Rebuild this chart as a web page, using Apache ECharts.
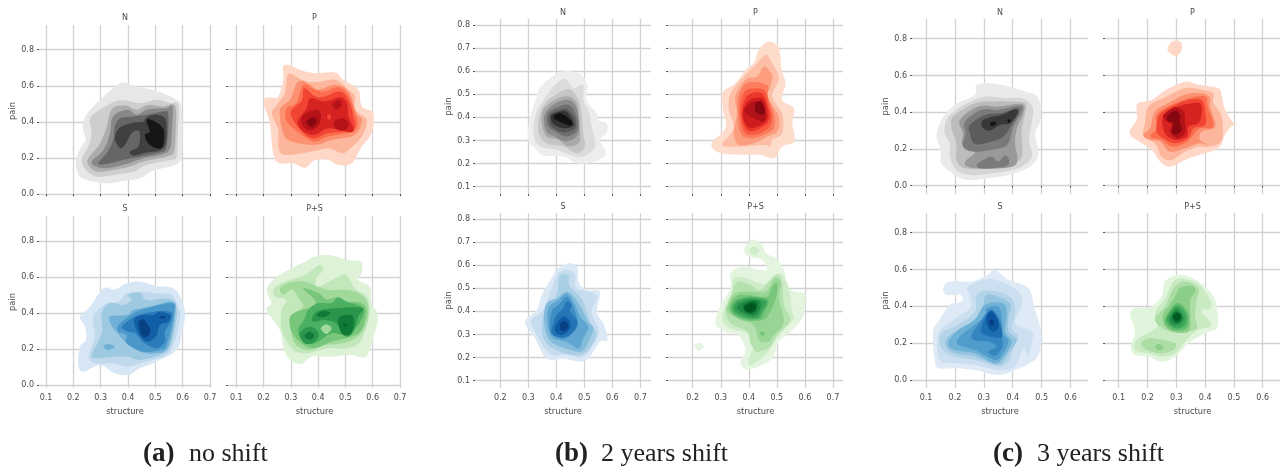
<!DOCTYPE html>
<html><head><meta charset="utf-8">
<style>html,body{margin:0;padding:0;background:#fff}#c{width:1287px;height:472px}</style>
<script src="https://cdn.jsdelivr.net/npm/echarts@6/dist/echarts.min.js"></script>
</head><body><div id="c"></div>
<script>
// Contours: [level, structure, pain, structure, pain, ...]
const aN=[
[0,.383,.619,.42,.60,.48,.581,.529,.559,.578,.522,.596,.485,.60,.337,.596,.207,.572,.161,.493,.13,.444,.087,.383,.072,.322,.059,.249,.078,.218,.111,.209,.189,.23,.263,.246,.30,.234,.374,.251,.448,.298,.522,.346,.587],
[1,.352,.513,.395,.519,.444,.504,.505,.522,.554,.504,.584,.494,.582,.337,.578,.207,.554,.189,.468,.161,.42,.124,.346,.106,.285,.096,.246,.133,.23,.189,.255,.263,.267,.337,.261,.42,.298,.467],
[2,.352,.485,.395,.489,.432,.467,.474,.494,.529,.485,.572,.489,.574,.337,.568,.235,.541,.207,.456,.18,.407,.152,.346,.133,.285,.124,.255,.161,.255,.198,.298,.281,.322,.374,.334,.448],
[3,.359,.448,.401,.467,.432,.439,.474,.47,.541,.476,.563,.485,.56,.337,.554,.254,.529,.222,.456,.198,.395,.167,.322,.143,.285,.152,.267,.18,.31,.244,.334,.337,.34,.411],
[4,.371,.42,.42,.43,.468,.439,.529,.457,.548,.439,.541,.263,.517,.23,.444,.207,.383,.189,.322,.167,.291,.17,.322,.226,.346,.30,.352,.374],
[5,.377,.374,.42,.396,.456,.402,.468,.426,.505,.439,.538,.411,.538,.281,.515,.241,.468,.23,.42,.213,.407,.235,.438,.263,.444,.337,.432,.352,.413,.337,.389,.272,.371,.254,.352,.30,.359,.346],
[6,.468,.402,.48,.415,.517,.383,.532,.346,.527,.263,.505,.254,.474,.281,.462,.328,.48,.346]];
const aP=[
[0,.272,.707,.297,.713,.34,.685,.389,.67,.462,.674,.492,.633,.547,.578,.56,.485,.602,.448,.596,.337,.56,.263,.523,.17,.474,.161,.437,.189,.389,.189,.352,.146,.309,.17,.26,.17,.236,.217,.223,.393,.203,.485,.205,.531,.23,.535,.254,.541,.272,.633],
[1,.291,.667,.34,.633,.389,.619,.462,.633,.511,.578,.535,.541,.535,.467,.578,.411,.56,.319,.511,.244,.486,.226,.437,.254,.376,.235,.278,.217,.254,.263,.254,.356,.23,.448,.254,.504,.278,.559],
[2,.327,.624,.37,.606,.401,.578,.462,.606,.511,.569,.541,.448,.56,.411,.535,.328,.45,.30,.389,.272,.303,.291,.272,.337,.26,.467,.297,.522],
[3,.346,.606,.389,.578,.425,.569,.474,.593,.511,.55,.535,.448,.545,.402,.529,.346,.437,.319,.389,.291,.34,.328,.285,.402,.285,.476,.321,.504],
[4,.349,.587,.389,.541,.425,.541,.48,.569,.511,.522,.529,.43,.529,.356,.437,.337,.382,.309,.34,.346,.30,.439,.315,.485,.342,.522],
[5,.37,.531,.425,.513,.48,.537,.505,.504,.511,.43,.529,.365,.517,.343,.437,.365,.389,.328,.346,.346,.325,.402,.358,.476],
[6,.346,.439,.395,.467,.41,.439,.403,.383,.37,.352,.342,.383],
[6,.452,.494,.474,.522,.486,.494,.468,.467],
[6,.459,.402,.492,.42,.513,.383,.492,.352,.463,.365],
[4,.432,.43,.442,.443,.448,.426,.44,.411],
[7,.358,.402,.382,.426,.395,.402,.376,.37]];
const aS=[
[0,.395,.565,.444,.574,.505,.55,.566,.537,.596,.472,.609,.389,.596,.287,.578,.194,.505,.13,.444,.093,.401,.056,.352,.065,.298,.111,.237,.074,.218,.111,.224,.213,.246,.25,.243,.324,.224,.38,.261,.435,.31,.537,.352,.531],
[1,.395,.509,.444,.519,.505,.509,.56,.50,.584,.435,.59,.38,.572,.25,.541,.167,.468,.13,.395,.102,.346,.12,.285,.12,.255,.157,.279,.269,.273,.38,.322,.454,.365,.463],
[2,.401,.50,.444,.513,.468,.472,.541,.481,.572,.454,.578,.38,.554,.213,.517,.167,.444,.139,.401,.157,.346,.157,.285,.148,.267,.167,.304,.287,.304,.398,.334,.454,.383,.444,.413,.472],
[3,.31,.213,.326,.228,.352,.213,.326,.194],
[3,.334,.38,.395,.389,.42,.417,.48,.435,.565,.463,.572,.389,.548,.213,.505,.176,.444,.185,.39,.24,.362,.287,.34,.33],
[4,.365,.333,.42,.398,.468,.426,.56,.454,.568,.389,.541,.222,.517,.194,.456,.185,.395,.231,.395,.278,.365,.296],
[5,.377,.324,.426,.38,.492,.407,.554,.407,.559,.361,.535,.296,.535,.241,.505,.204,.462,.231,.426,.287,.401,.296],
[6,.422,.361,.45,.389,.492,.389,.517,.407,.554,.389,.548,.352,.517,.333,.502,.269,.468,.241,.438,.287],
[7,.438,.346,.456,.365,.48,.315,.477,.278,.456,.265,.444,.296],
[7,.517,.38,.53,.383,.537,.372,.522,.369]];
const aPS=[
[0,.388,.713,.443,.722,.51,.694,.559,.685,.559,.62,.546,.583,.589,.546,.595,.454,.62,.389,.607,.287,.576,.157,.522,.167,.437,.157,.376,.157,.339,.117,.296,.139,.272,.213,.26,.306,.211,.417,.229,.454,.211,.528,.241,.593,.302,.648,.351,.685],
[1,.239,.537,.278,.574,.351,.611,.406,.667,.418,.639,.394,.594,.40,.546,.485,.611,.504,.611,.534,.537,.577,.491,.589,.398,.559,.25,.51,.204,.437,.204,.351,.176,.302,.204,.266,.306,.266,.417,.284,.472,.241,.491],
[2,.26,.537,.296,.569,.351,.574,.40,.546,.443,.528,.51,.528,.559,.50,.583,.444,.577,.343,.546,.269,.485,.231,.424,.222,.363,.194,.315,.231,.296,.333,.30,.389,.345,.435,.321,.50,.302,.531,.272,.50],
[3,.345,.537,.40,.513,.43,.476,.467,.487,.504,.465,.559,.454,.577,.407,.559,.306,.522,.269,.449,.241,.388,.204,.339,.231,.302,.30,.302,.389,.376,.435,.388,.472],
[4,.363,.417,.40,.454,.449,.454,.473,.487,.504,.463,.559,.435,.567,.398,.546,.333,.504,.278,.449,.287,.388,.231,.345,.241,.327,.306,.351,.37],
[5,.377,.37,.412,.417,.559,.43,.546,.38,.532,.306,.51,.269,.485,.287,.467,.343,.424,.361,.388,.352],
[5,.333,.287,.37,.324,.402,.287,.388,.241,.351,.231],
[2,.41,.315,.43,.337,.449,.315,.43,.283],
[6,.394,.389,.418,.413,.445,.40,.418,.376],
[6,.476,.376,.528,.383,.524,.296,.504,.278,.483,.296],
[7,.495,.333,.50,.342,.506,.333,.50,.324],
[6,.351,.278,.37,.296,.385,.278,.376,.254,.357,.259]];
const bN=[
[0,.395,.585,.437,.60,.49,.585,.511,.534,.508,.476,.544,.418,.55,.387,.58,.375,.58,.332,.556,.303,.576,.238,.526,.205,.473,.202,.425,.231,.354,.234,.33,.26,.30,.303,.304,.39,.33,.49,.342,.531],
[1,.395,.541,.431,.567,.461,.527,.496,.541,.496,.476,.514,.433,.526,.361,.538,.274,.496,.231,.449,.238,.401,.26,.342,.274,.32,.317,.324,.404,.354,.476],
[2,.389,.491,.443,.523,.479,.476,.49,.411,.496,.332,.502,.274,.473,.245,.425,.274,.365,.288,.336,.339,.342,.418,.365,.469],
[3,.395,.476,.443,.491,.473,.462,.482,.39,.485,.317,.479,.288,.443,.274,.407,.303,.365,.317,.348,.375,.354,.433],
[4,.389,.455,.443,.476,.473,.44,.479,.332,.437,.296,.395,.317,.365,.339,.356,.404],
[5,.389,.436,.443,.455,.47,.411,.475,.346,.437,.317,.395,.339,.368,.368,.368,.411],
[6,.395,.426,.437,.436,.465,.397,.467,.353,.425,.335,.383,.361,.375,.404],
[7,.395,.418,.434,.426,.458,.387,.458,.361,.425,.353,.389,.372,.381,.404],
[8,.395,.411,.419,.416,.455,.382,.451,.364,.431,.372,.401,.387,.391,.40]];
const bP=[
[0,.471,.729,.507,.70,.517,.606,.531,.549,.519,.476,.561,.44,.555,.375,.563,.296,.519,.274,.489,.223,.442,.238,.376,.238,.293,.248,.267,.288,.317,.353,.308,.433,.305,.505,.352,.549,.394,.614,.418,.635,.436,.693],
[1,.46,.671,.483,.635,.507,.57,.483,.491,.519,.418,.519,.332,.483,.303,.477,.274,.454,.281,.376,.274,.305,.281,.346,.353,.329,.433,.335,.505,.388,.585,.424,.628],
[2,.454,.62,.483,.585,.477,.534,.465,.491,.507,.404,.501,.339,.465,.317,.418,.288,.364,.281,.346,.332,.358,.418,.352,.491,.388,.563,.43,.577],
[3,.394,.549,.465,.541,.468,.491,.489,.418,.489,.353,.454,.325,.406,.31,.37,.332,.361,.418,.364,.491],
[4,.394,.52,.454,.52,.471,.462,.483,.404,.471,.353,.418,.325,.382,.339,.368,.418,.373,.476],
[5,.40,.498,.448,.505,.468,.447,.475,.404,.46,.368,.406,.339,.38,.375,.376,.44],
[6,.406,.476,.448,.483,.465,.433,.46,.382,.406,.353,.382,.39,.382,.44],
[7,.418,.469,.448,.462,.46,.418,.454,.382,.43,.39,.406,.404,.385,.426,.394,.447],
[8,.424,.459,.445,.469,.457,.426,.446,.411,.424,.426]];
const bS=[
[0,.401,.579,.443,.608,.475,.589,.479,.528,.508,.492,.556,.485,.544,.398,.568,.348,.583,.275,.556,.268,.508,.189,.461,.186,.425,.196,.383,.189,.354,.21,.324,.283,.288,.355,.33,.405,.348,.47,.383,.543],
[1,.407,.564,.443,.579,.467,.557,.473,.50,.544,.47,.526,.398,.55,.326,.544,.283,.496,.203,.437,.213,.389,.21,.354,.247,.315,.333,.312,.369,.348,.398,.377,.478],
[2,.411,.55,.443,.557,.446,.514,.473,.478,.496,.442,.52,.355,.544,.297,.508,.225,.461,.21,.401,.232,.36,.268,.348,.34,.363,.413,.401,.47],
[3,.437,.485,.467,.456,.496,.398,.514,.355,.532,.326,.514,.268,.485,.225,.401,.254,.368,.29,.356,.369,.365,.434,.401,.456],
[4,.437,.478,.461,.442,.485,.377,.514,.333,.496,.283,.479,.239,.437,.268,.389,.283,.371,.326,.371,.413,.407,.449],
[5,.437,.463,.458,.427,.475,.362,.473,.326,.431,.283,.389,.297,.377,.333,.383,.398,.413,.434],
[6,.401,.384,.425,.413,.437,.442,.455,.427,.449,.398,.475,.355,.455,.304,.419,.286,.383,.304,.389,.348],
[7,.401,.348,.425,.377,.449,.355,.446,.319,.419,.297,.395,.312],
[8,.415,.348,.431,.358,.443,.333,.427,.314,.413,.326]];
const bPS=[
[0,.382,.666,.412,.709,.448,.687,.46,.651,.495,.629,.525,.579,.543,.499,.596,.478,.602,.449,.59,.369,.549,.312,.507,.268,.483,.196,.43,.16,.388,.15,.37,.181,.388,.232,.364,.297,.317,.312,.281,.348,.299,.427,.335,.499,.335,.564,.376,.593,.442,.579,.465,.579,.448,.622,.40,.637],
[1,.402,.663,.421,.68,.436,.663,.421,.643],
[0,.206,.249,.223,.265,.239,.249,.223,.229],
[1,.346,.543,.394,.543,.454,.517,.507,.564,.539,.514,.555,.398,.561,.369,.519,.312,.483,.254,.46,.21,.406,.167,.40,.196,.418,.254,.394,.304,.335,.326,.305,.362,.317,.427,.34,.485],
[2,.358,.528,.406,.514,.442,.492,.495,.557,.519,.528,.525,.427,.549,.362,.501,.297,.477,.247,.43,.225,.406,.261,.394,.312,.335,.348,.317,.398,.335,.463],
[3,.352,.478,.406,.485,.46,.485,.495,.543,.515,.521,.507,.456,.525,.355,.489,.297,.471,.268,.436,.275,.418,.34,.37,.362,.329,.391,.323,.42],
[4,.364,.47,.406,.47,.465,.463,.483,.506,.501,.521,.499,.47,.477,.398,.448,.362,.382,.362,.335,.398,.335,.434],
[4,.439,.304,.449,.314,.458,.304,.449,.294],
[5,.348,.442,.40,.463,.454,.456,.471,.442,.454,.398,.436,.366,.382,.369,.34,.398],
[6,.36,.442,.406,.456,.46,.444,.448,.405,.43,.372,.388,.376,.346,.405],
[7,.37,.434,.406,.449,.442,.442,.436,.398,.418,.381,.382,.391,.358,.413],
[8,.38,.424,.406,.442,.43,.439,.427,.405,.412,.391,.388,.398],
[9,.385,.42,.406,.434,.424,.43,.424,.41,.406,.395,.388,.405]];
const cN=[
[0,.275,.549,.321,.558,.385,.54,.443,.513,.489,.476,.497,.358,.477,.285,.489,.176,.46,.104,.385,.058,.315,.04,.246,.031,.20,.058,.153,.122,.151,.195,.136,.267,.153,.358,.20,.44,.269,.495],
[1,.211,.422,.281,.476,.321,.485,.373,.476,.431,.476,.468,.431,.466,.349,.456,.249,.466,.158,.419,.095,.327,.067,.257,.058,.205,.085,.182,.158,.182,.231,.165,.285,.171,.358],
[2,.194,.376,.269,.449,.327,.458,.385,.458,.443,.449,.443,.395,.431,.304,.431,.158,.385,.113,.315,.095,.235,.095,.205,.14,.205,.231,.188,.313],
[3,.217,.358,.281,.431,.35,.431,.431,.445,.437,.395,.414,.313,.408,.231,.414,.122,.362,.095,.269,.095,.236,.113,.24,.14,.269,.185,.225,.222,.228,.285],
[4,.234,.349,.292,.413,.35,.413,.425,.435,.431,.404,.402,.322,.385,.231,.356,.204,.269,.185,.228,.213,.236,.285],
[4,.275,.113,.298,.14,.327,.158,.35,.131,.373,.164,.387,.14,.379,.107,.327,.095,.287,.095],
[5,.252,.331,.304,.385,.362,.395,.414,.422,.421,.395,.396,.331,.367,.267,.327,.24,.269,.227,.252,.285],
[6,.292,.349,.321,.373,.362,.385,.408,.416,.417,.395,.391,.34,.356,.331,.321,.30,.298,.313],
[7,.321,.34,.333,.349,.344,.34,.329,.325],
[7,.382,.358,.39,.362,.392,.349,.385,.344]];
const cP=[
[0,.27,.749,.286,.785,.313,.785,.32,.749,.313,.722,.298,.704,.275,.725],
[0,.168,.449,.215,.467,.255,.513,.295,.545,.336,.567,.377,.549,.446,.531,.458,.485,.469,.413,.498,.344,.516,.336,.492,.325,.469,.276,.446,.204,.377,.167,.33,.14,.284,.104,.249,.122,.215,.195,.18,.231,.137,.285,.162,.358,.162,.413],
[1,.203,.431,.255,.476,.33,.531,.388,.522,.429,.504,.429,.449,.458,.376,.458,.249,.417,.213,.377,.213,.33,.185,.284,.14,.249,.158,.226,.231,.186,.267,.191,.34],
[2,.226,.404,.272,.449,.33,.495,.388,.504,.417,.476,.417,.431,.435,.322,.388,.295,.382,.249,.411,.222,.377,.231,.33,.204,.278,.185,.244,.24,.209,.249,.186,.276,.209,.313],
[3,.232,.385,.272,.431,.342,.476,.40,.485,.409,.431,.429,.322,.382,.313,.359,.276,.33,.231,.284,.213,.249,.249,.209,.267,.232,.313],
[4,.238,.376,.272,.422,.342,.467,.388,.467,.40,.413,.40,.331,.359,.313,.342,.258,.295,.231,.255,.258,.232,.295],
[5,.252,.367,.29,.422,.342,.445,.382,.449,.388,.395,.377,.34,.342,.322,.336,.267,.295,.249,.261,.285],
[6,.255,.385,.295,.427,.325,.404,.33,.349,.33,.285,.30,.258,.278,.295,.284,.331,.261,.358],
[7,.267,.376,.295,.409,.312,.385,.312,.349,.319,.304,.298,.276,.284,.295,.29,.34,.273,.349]];
const cS=[
[0,.159,.499,.182,.535,.257,.535,.315,.572,.338,.599,.385,.544,.454,.499,.477,.381,.497,.272,.497,.181,.477,.109,.408,.054,.35,.027,.269,.054,.20,.064,.142,.064,.13,.109,.124,.263,.147,.327,.182,.408,.223,.426,.22,.463,.171,.463],
[1,.246,.508,.327,.548,.419,.481,.431,.399,.408,.309,.466,.263,.466,.209,.452,.127,.437,.172,.408,.073,.35,.054,.269,.082,.20,.091,.147,.109,.142,.254,.194,.327,.252,.39,.252,.454],
[2,.275,.463,.327,.486,.396,.445,.408,.363,.396,.281,.419,.236,.402,.172,.385,.10,.35,.073,.269,.109,.20,.127,.153,.172,.153,.254,.211,.30,.269,.372],
[3,.304,.454,.327,.463,.39,.417,.385,.345,.385,.263,.414,.218,.385,.145,.35,.082,.269,.127,.20,.145,.171,.181,.176,.236,.246,.30,.292,.381],
[4,.304,.408,.367,.417,.379,.354,.373,.263,.396,.209,.373,.136,.338,.091,.269,.145,.20,.163,.176,.20,.211,.272,.269,.327],
[5,.31,.39,.35,.399,.362,.345,.367,.254,.385,.209,.362,.136,.338,.109,.269,.163,.211,.191,.217,.236,.269,.30,.304,.345],
[6,.257,.245,.281,.30,.304,.354,.327,.381,.356,.327,.364,.236,.362,.172,.338,.131,.315,.154,.344,.181,.315,.209,.269,.214],
[7,.29,.263,.304,.336,.327,.381,.352,.318,.362,.236,.321,.236],
[8,.31,.345,.327,.372,.348,.327,.35,.281,.333,.263,.313,.29],
[9,.319,.318,.327,.33,.336,.312,.327,.294]];
const cPS=[
[0,.139,.354,.157,.39,.209,.396,.249,.454,.261,.535,.312,.572,.377,.535,.429,.454,.443,.363,.44,.281,.40,.254,.342,.20,.296,.127,.249,.10,.203,.127,.157,.136,.142,.181,.157,.263],
[1,.163,.218,.209,.263,.238,.30,.226,.363,.261,.445,.295,.544,.342,.544,.382,.517,.417,.436,.42,.39,.388,.372,.423,.30,.376,.272,.336,.218,.296,.145,.249,.127,.203,.145,.157,.163],
[2,.261,.399,.29,.499,.33,.535,.377,.499,.371,.436,.365,.354,.371,.281,.336,.263,.284,.263,.244,.29,.226,.336],
[2,.178,.20,.203,.227,.249,.218,.296,.20,.29,.163,.244,.145,.197,.163],
[3,.272,.399,.295,.454,.312,.499,.353,.512,.367,.481,.348,.436,.348,.345,.342,.263,.284,.263,.255,.309,.255,.363],
[3,.226,.181,.24,.196,.255,.178,.24,.16],
[4,.267,.354,.30,.418,.33,.39,.344,.345,.336,.281,.29,.269,.261,.309],
[5,.273,.354,.30,.403,.327,.378,.336,.336,.325,.29,.293,.281,.267,.318],
[6,.282,.354,.30,.39,.319,.363,.325,.33,.31,.30,.288,.30,.275,.327],
[7,.287,.354,.30,.372,.317,.354,.317,.327,.302,.309,.287,.327],
[8,.29,.348,.305,.363,.317,.345,.307,.323,.293,.327]];

const greys=['#ffffff','#f0f0f0','#d9d9d9','#bdbdbd','#969696','#737373','#525252','#252525','#000000'];
const reds=['#fff5f0','#fee0d2','#fcbba1','#fc9272','#fb6a4a','#ef3b2c','#cb181d','#a50f15','#67000d'];
const blues=['#f7fbff','#deebf7','#c6dbef','#9ecae1','#6baed6','#4292c6','#2171b5','#08519c','#08306b'];
const greens=['#f7fcf5','#e5f5e0','#c7e9c0','#a1d99b','#74c476','#41ab5d','#238b45','#006d2c','#00441b'];

const ticksA={x:[.1,.2,.3,.4,.5,.6,.7],y:[0,.2,.4,.6,.8]};
const ticksB={x:[.2,.3,.4,.5,.6,.7],y:[.1,.2,.3,.4,.5,.6,.7,.8]};
const ticksC={x:[.1,.2,.3,.4,.5,.6],y:[0,.2,.4,.6,.8]};

// name, contours, ramp, level count, ticks, grid box (l,t,r,b), x range, y range, title centre y, column flags
const panels=[
['N',aN,greys,7,ticksA,[39,25,211,197],[.0744,.7037],[-.0166,.937],17,true,false],
['P',aP,reds,8,ticksA,[228,25,401,197],[.0696,.7037],[-.0166,.937],17,false,false],
['S',aS,blues,8,ticksA,[39,216,211,388],[.0744,.7037],[-.0167,.939],208,true,true],
['P+S',aPS,greens,8,ticksA,[228,216,401,388],[.0696,.7037],[-.0167,.939],208,false,true],
['N',bN,greys,9,ticksB,[475,19,651,194],[.1096,.738],[.0684,.826],12,true,false],
['P',bP,reds,9,ticksB,[668,19,843,194],[.1118,.736],[.0684,.826],12,false,false],
['S',bS,blues,9,ticksB,[475,213,651,388],[.1096,.738],[.0684,.825],206,true,true],
['P+S',bPS,greens,10,ticksB,[668,213,843,388],[.1118,.736],[.0684,.825],206,false,true],
['N',cN,greys,8,ticksC,[912,19,1088,194],[.0514,.6604],[-.045,.907],12,true,false],
['P',cP,reds,8,ticksC,[1105,19,1280,194],[.0524,.66],[-.045,.907],12,false,false],
['S',cS,blues,10,ticksC,[912,213,1088,388],[.0514,.6604],[-.0435,.907],206,true,true],
['P+S',cPS,greens,9,ticksC,[1105,213,1280,388],[.0524,.66],[-.0435,.907],206,false,true]
];
const captions=[['(a)','no shift',143,189],['(b)','2 years shift',555,601],['(c)','3 years shift',993,1037]];

function hex(c){return [1,3,5].map(i=>parseInt(c.substr(i,2),16));}
function rampColor(r,t){
  const p=Math.min(.9999,Math.max(0,t))*(r.length-1),i=Math.floor(p),f=p-i,a=hex(r[i]),b=hex(r[i+1]);
  return 'rgb('+a.map((v,j)=>Math.round(v+(b[j]-v)*f)).join(',')+')';
}
// closed Catmull-Rom through the projected contour points
function spline(pts){
  const out=[],n=pts.length,steps=6;
  for(let i=0;i<n;i++){
    const p0=pts[(i-1+n)%n],p1=pts[i],p2=pts[(i+1)%n],p3=pts[(i+2)%n];
    for(let s=0;s<steps;s++){
      const t=s/steps,t2=t*t,t3=t2*t;
      out.push([0,1].map(d=>.5*(2*p1[d]+(p2[d]-p0[d])*t+(2*p0[d]-5*p1[d]+4*p2[d]-p3[d])*t2+(3*p1[d]-p0[d]-3*p2[d]+p3[d])*t3)));
    }
  }
  return out;
}
const ink='#4a4a4a',gridCol='#d2d2d2';
const option={animation:false,backgroundColor:'#fff',grid:[],xAxis:[],yAxis:[],series:[],title:[],graphic:[]};
panels.forEach((p,i)=>{
  const [name,polys,ramp,n,t,b,xr,yr,ty,left,bottom]=p;
  option.grid.push({left:b[0],top:b[1],width:b[2]-b[0],height:b[3]-b[1],containLabel:false,show:false});
  option.title.push({text:name,left:(b[0]+b[2])/2,top:ty-3,padding:0,textAlign:'center',textStyle:{fontFamily:'DejaVu Sans',fontSize:8,fontWeight:'normal',color:ink}});
  option.xAxis.push({type:'value',gridIndex:i,min:xr[0],max:xr[1],
    name:bottom?'structure':'',nameLocation:'middle',nameGap:20,nameTextStyle:{fontFamily:'DejaVu Sans',fontSize:8.3,color:ink},
    axisLine:{show:false},
    axisTick:{show:!bottom,length:2,inside:false,customValues:t.x,lineStyle:{color:'#555',width:1}},
    axisLabel:{show:bottom,margin:6,customValues:t.x,formatter:v=>(+v).toFixed(1),fontFamily:'DejaVu Sans',fontSize:8,color:ink},
    splitLine:{show:true,lineStyle:{color:gridCol,width:1.3}}});
  option.yAxis.push({type:'value',gridIndex:i,min:yr[0],max:yr[1],
    name:left?'pain':'',nameLocation:'middle',nameGap:22,nameTextStyle:{fontFamily:'DejaVu Sans',fontSize:8.3,color:ink},
    axisLine:{show:false},
    axisTick:{show:true,length:2,inside:false,customValues:t.y,lineStyle:{color:'#555',width:1}},
    axisLabel:{show:left,margin:5,customValues:t.y,formatter:v=>(+v).toFixed(1),fontFamily:'DejaVu Sans',fontSize:8,color:ink},
    splitLine:{show:true,lineStyle:{color:gridCol,width:1.3}}});
  option.series.push({type:'custom',coordinateSystem:'cartesian2d',xAxisIndex:i,yAxisIndex:i,silent:true,clip:false,
    data:polys.map((q,j)=>[q[1],q[2],j]),
    encode:{x:0,y:1},
    renderItem:(params,api)=>{
      const q=polys[params.dataIndex],pts=[];
      for(let k=1;k<q.length;k+=2)pts.push(api.coord([q[k],q[k+1]]));
      return {type:'polygon',shape:{points:spline(pts)},style:{fill:rampColor(ramp,(q[0]+1.4)/(n+1))}};
    }});
});
captions.forEach(c=>{
  option.graphic.push({type:'text',left:c[2],top:441,style:{text:c[0],font:'bold 27px "Liberation Serif"',fill:'#222'}});
  option.graphic.push({type:'text',left:c[3],top:441,style:{text:c[1],font:'26px "Liberation Serif"',fill:'#222'}});
});
echarts.init(document.getElementById('c'),null,{renderer:'canvas'}).setOption(option);
</script></body></html>
